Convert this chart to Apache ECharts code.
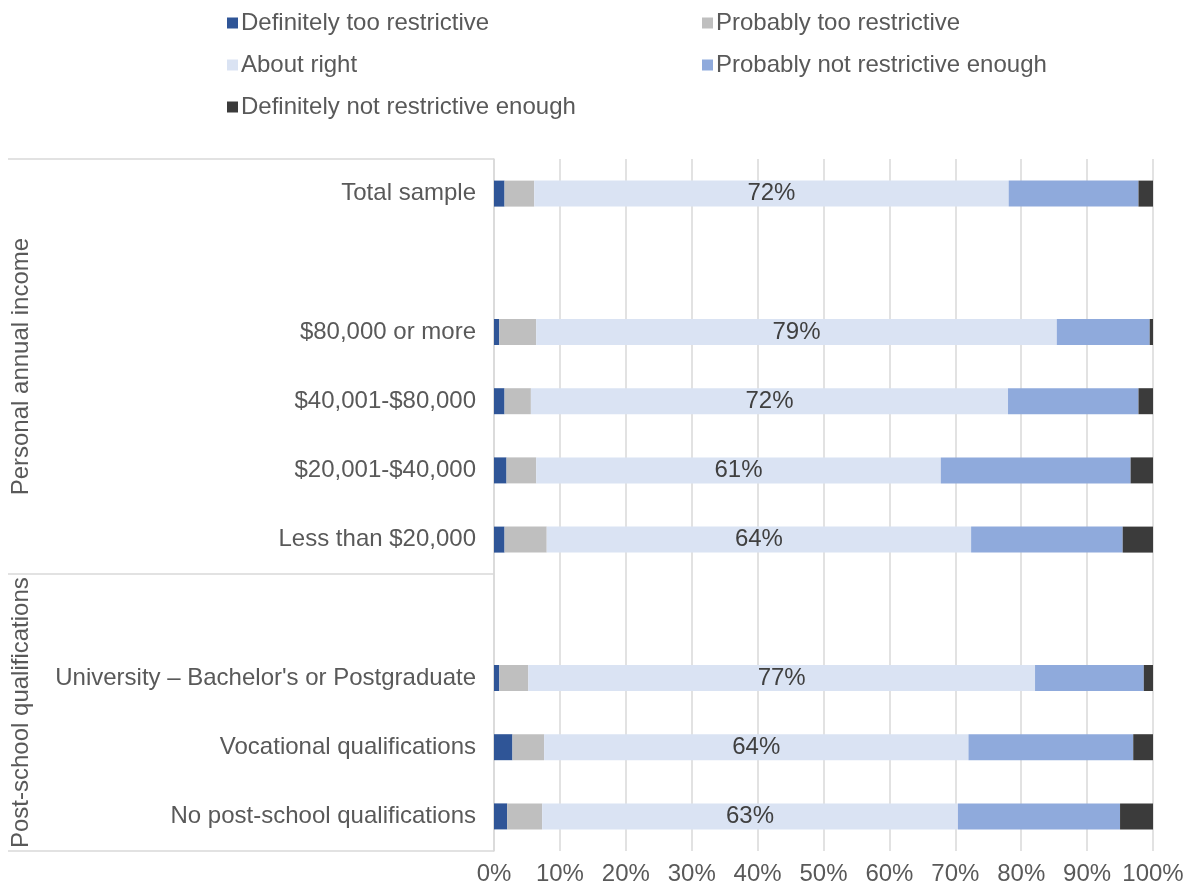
<!DOCTYPE html>
<html>
<head>
<meta charset="utf-8">
<script src="https://cdn.jsdelivr.net/npm/echarts@6/dist/echarts.min.js"></script>
<style>
  html, body { margin: 0; padding: 0; background: #fff; }
  #main { width: 1191px; height: 886px; }
</style>
</head>
<body>
<div id="main"></div>
<script>
// categories top to bottom, '' = spacer rows between groups
var categories = [
  'Total sample', '',
  '$80,000 or more', '$40,001-$80,000', '$20,001-$40,000', 'Less than $20,000', '',
  'University \u2013 Bachelor\'s or Postgraduate', 'Vocational qualifications', 'No post-school qualifications'
];
var seriesNames = [
  'Definitely too restrictive', 'Probably too restrictive', 'About right',
  'Probably not restrictive enough', 'Definitely not restrictive enough'
];
var defTooRestrictive   = [1.6, null, 0.8, 1.6, 1.9, 1.6, null, 0.8, 2.8, 2.0];
var probTooRestrictive  = [4.5, null, 5.6, 4.0, 4.5, 6.4, null, 4.4, 4.8, 5.3];
var aboutRight          = [72.0, null, 79.0, 72.4, 61.4, 64.4, null, 76.9, 64.4, 63.1];
var probNotEnough       = [19.7, null, 14.1, 19.8, 28.8, 23.0, null, 16.5, 25.0, 24.6];
var defNotEnough        = [2.2, null, 0.5, 2.2, 3.4, 4.6, null, 1.4, 3.0, 5.0];
var xTicks = ['0%', '10%', '20%', '30%', '40%', '50%', '60%', '70%', '80%', '90%', '100%'];
// group labels on the left: [label, first category index, end index]
var groups = [['Personal annual income', 0, 6], ['Post-school qualifications', 6, 10]];

var colors = ['#2F5597', '#BFBFBF', '#DAE3F3', '#8FAADC', '#3B3B3B'];
var values = [defTooRestrictive, probTooRestrictive, aboutRight, probNotEnough, defNotEnough];
var font = 'Liberation Sans, Arial, sans-serif';
var textColor = '#595959';
var fs = 24;

var chart = echarts.init(document.getElementById('main'));

var series = seriesNames.map(function (name, i) {
  return {
    name: name,
    type: 'bar',
    stack: 'total',
    barWidth: 26,
    data: values[i],
    itemStyle: { color: colors[i] },
    label: {
      show: i === 2,
      position: 'inside',
      color: '#404040',
      fontFamily: font,
      fontSize: fs,
      formatter: function (p) { return Math.round(p.value) + '%'; }
    },
    emphasis: { disabled: true }
  };
});

var legendText = { color: textColor, fontFamily: font, fontSize: fs, padding: [0, 0, 0, -2] };

chart.setOption({
  animation: false,
  legend: [
    {
      orient: 'vertical', left: 222, top: 6, itemWidth: 11, itemHeight: 11, itemGap: 18,
      icon: 'rect', textStyle: legendText, selectedMode: false,
      data: [seriesNames[0], seriesNames[2], seriesNames[4]]
    },
    {
      orient: 'vertical', left: 697, top: 6, itemWidth: 11, itemHeight: 11, itemGap: 18,
      icon: 'rect', textStyle: legendText, selectedMode: false,
      data: [seriesNames[1], seriesNames[3]]
    }
  ],
  grid: { left: 494, right: 38, top: 159, bottom: 35, containLabel: false },
  xAxis: {
    type: 'value',
    min: 0,
    max: 100,
    interval: 10,
    axisLine: { show: false },
    axisTick: { show: false },
    splitLine: { lineStyle: { color: '#D9D9D9', width: 1.5 } },
    axisLabel: {
      color: textColor, fontFamily: font, fontSize: fs, margin: 11,
      formatter: function (v) { return xTicks[v / 10]; }
    }
  },
  yAxis: {
    type: 'category',
    inverse: true,
    data: categories,
    axisLine: { lineStyle: { color: '#D9D9D9', width: 1.5 } },
    axisTick: {
      show: true,
      length: 486,
      lineStyle: { color: '#D9D9D9', width: 1.5 },
      interval: function (idx) {
        return groups.some(function (g) { return g[1] === idx; });
      }
    },
    axisLabel: { color: textColor, fontFamily: font, fontSize: fs, margin: 18, interval: 0 }
  },
  series: series
});

// rotated group labels, centred on their category bands
var gridTop = 159, gridH = 886 - 159 - 35, band = gridH / categories.length;
chart.setOption({
  graphic: groups.map(function (g) {
    return {
      type: 'text',
      x: 21,
      y: gridTop + band * (g[1] + g[2]) / 2,
      rotation: Math.PI / 2,
      style: {
        text: g[0], fill: textColor, font: fs + 'px ' + font,
        align: 'center', verticalAlign: 'middle'
      }
    };
  })
});
</script>
</body>
</html>
